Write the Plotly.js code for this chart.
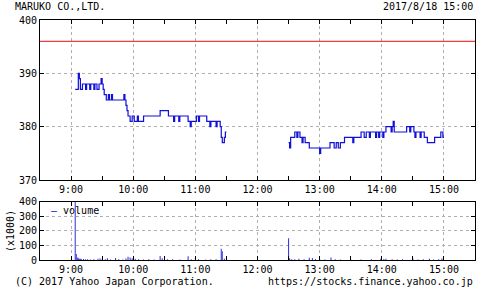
<!DOCTYPE html>
<html><head><meta charset="utf-8">
<script src="https://cdn.plot.ly/plotly-3.0.1.min.js"></script>
<style>html,body{margin:0;padding:0;background:#fff}#c{width:500px;height:290px}</style>
</head><body><div id="c"></div>
<script>
const DAY = '2017-08-18 ';
const title = 'MARUKO CO.,LTD.';
const stamp = '2017/8/18 15:00';
const prevClose = 396;

const amTimes = ['09:04','09:07','09:08','09:09','09:11','09:14','09:15','09:18','09:19','09:22','09:23','09:25','09:27','09:29','09:30','09:31','09:32','09:34','09:36','09:37','09:39','09:40','09:51','09:52','09:53','09:54','09:55','09:57','09:59','10:01','10:04','10:05','10:10','10:26','10:34','10:39','10:40','10:44','10:45','10:53','10:55','10:56','11:01','11:03','11:04','11:11','11:14','11:15','11:20','11:21','11:24','11:25','11:26','11:28','11:29','11:30'];
const amPrices = [387,390,389,387,388,387,388,387,388,387,388,387,388,389,388,387,386,385,386,385,386,385,386,385,384,383,382,381,382,381,382,381,382,383,382,381,382,381,382,381,380,381,382,381,382,381,380,381,380,381,380,378,377,378,379,379];

const pmTimes = ['12:30','12:31','12:32','12:36','12:38','12:39','12:41','12:43','12:44','12:46','12:50','13:00','13:01','13:10','13:14','13:16','13:18','13:20','13:24','13:32','13:33','13:40','13:43','13:45','13:48','13:49','13:54','13:55','13:57','13:58','14:01','14:02','14:04','14:09','14:10','14:11','14:12','14:24','14:27','14:28','14:31','14:32','14:33','14:37','14:38','14:41','14:44','14:51','14:57','14:59','15:00'];
const pmPrices = [377,376,378,379,378,379,378,377,378,377,376,375,376,377,376,377,376,377,378,377,378,379,378,379,378,379,378,379,378,379,378,379,380,379,380,381,379,380,379,380,379,378,379,378,379,378,377,378,379,378,378];

const volTimes = ['09:04','09:05','09:06','09:07','09:08','09:09','09:10','09:12','09:14','09:16','09:19','09:22','09:26','09:28','09:30','09:33','09:35','09:38','09:43','09:46','09:50','09:53','09:55','09:57','09:59','10:02','10:05','10:10','10:15','10:20','10:26','10:28','10:33','10:38','10:45','10:53','10:56','11:00','11:03','11:10','11:15','11:20','11:25','11:26','11:28','11:30','12:30','12:31','12:33','12:36','12:40','12:45','12:50','12:53','12:56','13:00','13:05','13:11','13:15','13:20','13:30','13:40','13:50','13:59','14:02','14:04','14:10','14:15','14:20','14:30','14:35','14:40','14:46','14:50','14:55','14:58'];
const volValues = [420,42,18,12,9,8,6,7,5,6,4,5,8,10,6,5,12,4,14,5,4,10,22,18,12,8,6,4,5,4,28,12,5,6,4,26,6,14,5,4,5,6,78,60,8,10,150,12,6,5,8,6,16,14,6,5,4,18,5,4,6,4,5,8,7,8,5,4,5,10,4,5,9,4,6,10];

const hourTicks = ['09:00','10:00','11:00','12:00','13:00','14:00','15:00'];
const hourLabels = ['9:00','10:00','11:00','12:00','13:00','14:00','15:00'];
const xRange = ['08:30','15:30'];
const priceRange = [370,400];
const priceTicks = [370,380,390,400];
const volRange = [0,400];
const volTicks = [0,100,200,300,400];

const d = a => a.map(t => DAY + t);
const FONT = 'DejaVu Sans Mono';
const lineCol = '#1010d8';

const traces = [
  {x:d(amTimes), y:amPrices, type:'scatter', mode:'lines', line:{shape:'hv', color:lineCol, width:1.2}, xaxis:'x', yaxis:'y', showlegend:false, hoverinfo:'skip'},
  {x:d(pmTimes), y:pmPrices, type:'scatter', mode:'lines', line:{shape:'hv', color:lineCol, width:1.2}, xaxis:'x', yaxis:'y', showlegend:false, hoverinfo:'skip'},
  {x:d(volTimes), y:volValues, type:'bar', width:60000, marker:{color:'#3434e0', line:{width:0}}, xaxis:'x2', yaxis:'y2', showlegend:false, hoverinfo:'skip'}
];

const xCommon = {
  type:'date', range:d(xRange), tickvals:d(hourTicks), ticktext:hourLabels,
  showgrid:true, gridcolor:'#b0b0b0', griddash:'dot', gridwidth:1,
  showline:true, linecolor:'#000', linewidth:1, mirror:'ticks',
  ticks:'inside', ticklen:4, tickcolor:'#000',
  minor:{dtick:1800000, ticks:'inside', ticklen:4, tickcolor:'#000', showgrid:false},
  tickfont:{family:FONT, size:10, color:'#000'}, zeroline:false, fixedrange:true
};
const yCommon = {
  showgrid:true, gridcolor:'#b0b0b0', griddash:'dot', gridwidth:1,
  showline:true, linecolor:'#000', linewidth:1, mirror:'ticks',
  ticks:'inside', ticklen:4, tickcolor:'#000', zeroline:false,
  tickfont:{family:FONT, size:10, color:'#000'}, fixedrange:true
};

const layout = {
  width:500, height:290, paper_bgcolor:'#fff', plot_bgcolor:'#fff',
  margin:{l:40, r:25, t:20, b:30},
  showlegend:false,
  xaxis:Object.assign({}, xCommon, {anchor:'y', domain:[0,1]}),
  xaxis2:Object.assign({}, xCommon, {anchor:'y2', domain:[0,1]}),
  yaxis:Object.assign({}, yCommon, {domain:[0.3333,1], range:priceRange, tickvals:priceTicks}),
  yaxis2:Object.assign({}, yCommon, {domain:[0,0.2417], range:volRange, tickvals:volTicks,
    title:{text:'(x1000)', font:{family:FONT, size:10, color:'#000'}, standoff:2}}),
  shapes:[{type:'line', xref:'x domain', x0:0, x1:1, yref:'y', y0:prevClose, y1:prevClose, line:{color:'#f03c3c', width:1.2}}],
  annotations:[
    {text:title, xref:'paper', yref:'paper', x:-0.063, y:1.0, yshift:14, xanchor:'left', yanchor:'middle', showarrow:false, font:{family:FONT, size:10, color:'#000'}},
    {text:stamp, xref:'paper', yref:'paper', x:1, y:1.0, yshift:14, xanchor:'right', yanchor:'middle', showarrow:false, font:{family:FONT, size:10, color:'#000'}},
    {text:'(C) 2017 Yahoo Japan Corporation.', xref:'paper', yref:'paper', x:-0.063, y:0, yshift:-21, xanchor:'left', yanchor:'middle', showarrow:false, font:{family:FONT, size:10, color:'#000'}},
    {text:'https://stocks.finance.yahoo.co.jp', xref:'paper', yref:'paper', x:1, y:0, yshift:-21, xanchor:'right', yanchor:'middle', showarrow:false, font:{family:FONT, size:10, color:'#000'}},
    {text:'<span style="color:#1010d8">—</span> volume', xref:'x2 domain', yref:'y2 domain', x:0.02, y:0.98, xanchor:'left', yanchor:'top', showarrow:false, font:{family:FONT, size:10, color:'#000'}}
  ]
};

Plotly.newPlot('c', traces, layout, {staticPlot:true, displayModeBar:false});
</script></body></html>
